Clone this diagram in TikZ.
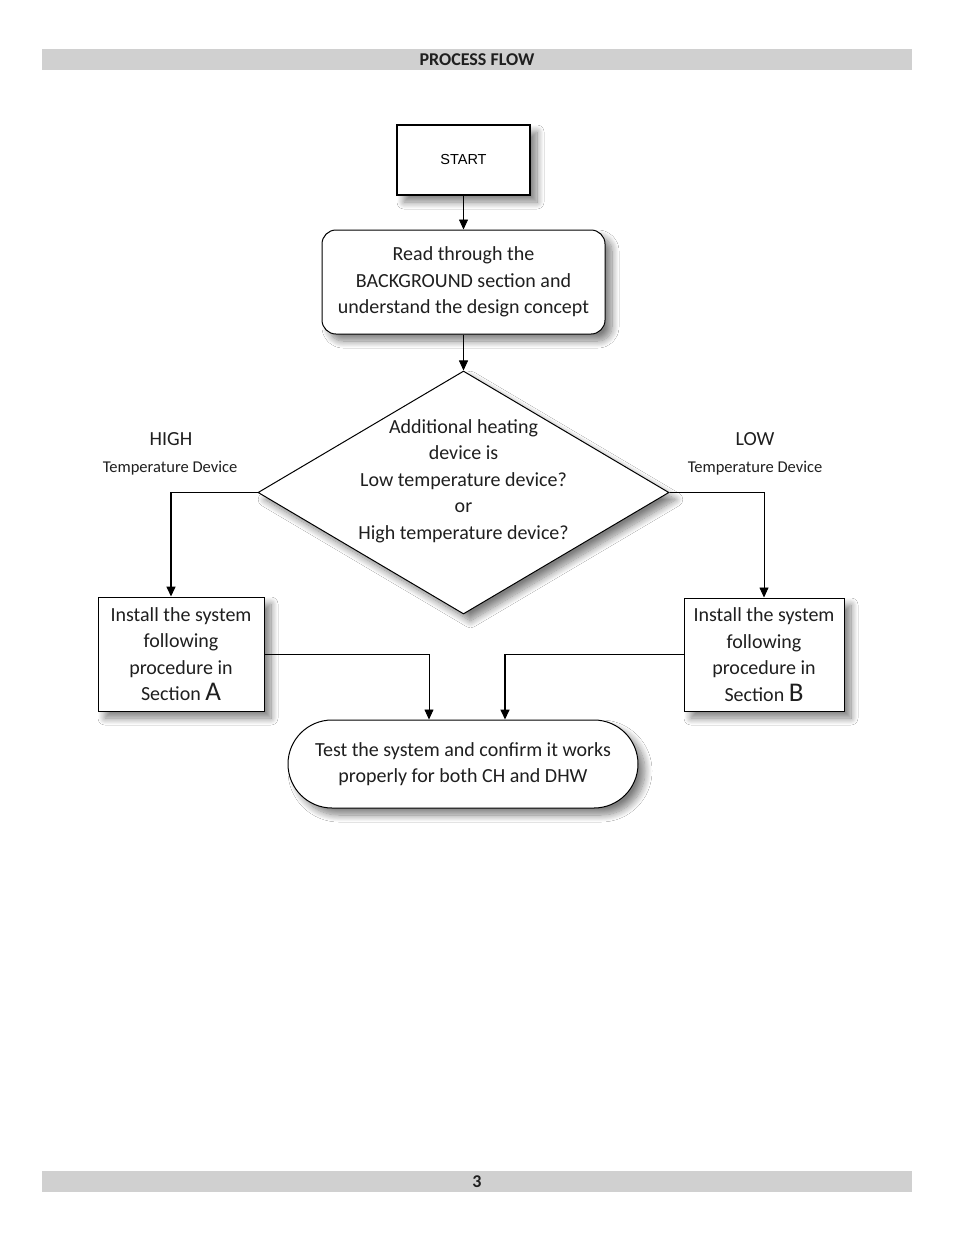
\documentclass[tikz,border=0pt]{standalone}
\usepackage{fontspec}
\setmainfont{Carlito}
\newfontfamily\arialfont{Liberation Sans}
\usetikzlibrary{shapes.geometric,arrows.meta,shadows.blur}

\definecolor{barGray}{HTML}{D0D0D0}
\tikzset{
    shade/.style={blur shadow={shadow xshift=7pt, shadow yshift=-7pt, shadow blur radius=7pt, shadow blur steps=12, shadow opacity=50}},
    stepbox/.style={draw, line width=1pt, fill=white, inner sep=0pt, align=center, shade},
    txt/.style={font=\fontsize{20}{26.5}\selectfont, align=center, text=black!88},
    arrow/.style={line width=0.8pt, -{Triangle[width=9pt,length=10pt]}},
    bar/.style={fill=barGray, minimum width=870pt, minimum height=21pt, inner sep=0pt,
                font=\bfseries\fontsize{18}{18}\selectfont, text=black!88},
}

\begin{document}
\begin{tikzpicture}[x=1pt, y=-1pt]
    \fill[white] (0,0) rectangle (954,1235);
    \useasboundingbox (0,0) rectangle (954,1235);
    % Page bars
    \node[bar] (header) at (477,59.5) {PROCESS FLOW};
    \node[bar] (footer) at (477,1181.5) {3};
    % Flow steps
    \node[stepbox, line width=1.3pt, minimum width=133pt, minimum height=70pt, font=\arialfont\fontsize{14.5}{16}\selectfont] (start) at (463.5,160) {START};
    \node[stepbox, txt, rounded corners=14pt, minimum width=283pt, minimum height=104pt] (read) at (463.5,282) {Read through the\\BACKGROUND section and\\understand the design concept};
    \node[diamond, draw, line width=1pt, fill=white, inner sep=0pt, minimum width=411pt, minimum height=243pt, shade] (decide) at (463.5,492.5) {};
    \node[txt] (question) at (463.5,481) {Additional heating\\device is\\Low temperature device?\\or\\High temperature device?};
    \node[stepbox, txt, minimum width=166pt, minimum height=114pt] (secA) at (181,654) {Install the system\\following\\procedure in\\Section {\fontsize{27}{26.5}\selectfont A}};
    \node[stepbox, txt, minimum width=160pt, minimum height=113pt] (secB) at (764,654.5) {Install the system\\following\\procedure in\\Section {\fontsize{27}{26.5}\selectfont B}};
    \node[stepbox, txt, rounded corners=44pt, minimum width=350pt, minimum height=88pt] (finish) at (463,764) {Test the system and confirm it works\\properly for both CH and DHW};
    % Branch labels
    \node[txt] (highlbl) at (171,439) {HIGH};
    \node[txt, font=\fontsize{16.5}{18}\selectfont] (hightemp) at (170,468) {Temperature Device};
    \node[txt] (lowlbl) at (755,439) {LOW};
    \node[txt, font=\fontsize{16.5}{18}\selectfont] (lowtemp) at (755,468) {Temperature Device};
    % Connectors
    \draw[arrow] (start) -- (read);
    \draw[arrow] (read) -- (decide);
    \draw[arrow, line width=1.6pt] (decide.west) -| ([xshift=-10pt]secA.north);
    \draw[arrow] (decide.east) -| (secB.north);
    \draw[arrow] (secA.east) -| ([xshift=-34pt]finish.north);
    \draw[arrow, line width=1.6pt] (secB.west) -| ([xshift=42pt]finish.north);
\end{tikzpicture}
\end{document}
